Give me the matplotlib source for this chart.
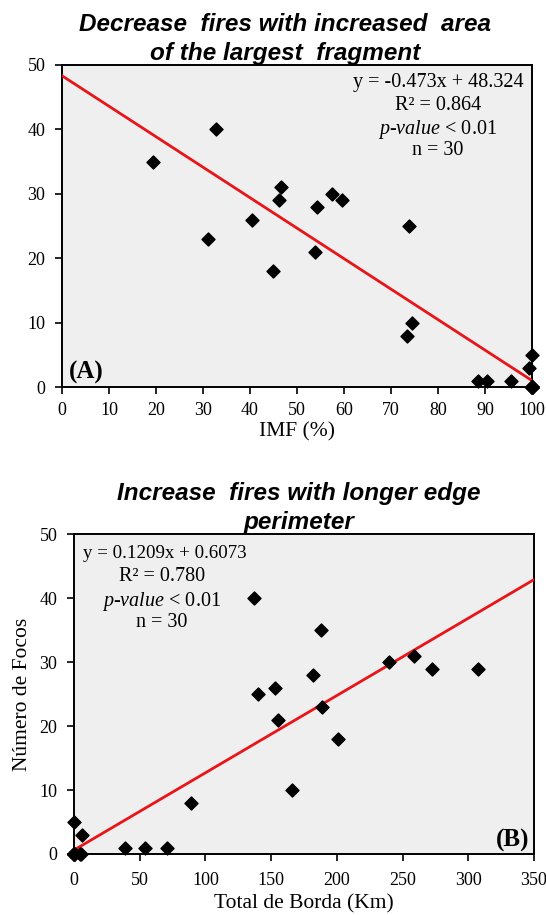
import matplotlib
matplotlib.use("Agg")
import matplotlib.pyplot as plt
import numpy as np

# ── Data ──────────────────────────────────────────────────────────────────────

# Panel A: largest fragment area (IMF, %) vs number of fires
imf_pct = [19.3, 32.7, 31.1, 40.5, 44.9, 46.2, 46.6, 53.9, 54.2, 57.4, 59.6,
           73.9, 73.4, 74.5, 88.6, 90.5, 95.5, 100, 99.4,
           100, 100, 100, 100, 100, 100, 100, 100, 100, 100, 100]
fires_a = [35, 40, 23, 26, 18, 29, 31, 21, 28, 30, 29,
           25, 8, 10, 1, 1, 1, 5, 3,
           0, 0, 0, 0, 0, 0, 0, 0, 0, 0, 0]

# Panel B: total edge length (km) vs number of fires
edge_km = [0, 6.1, 38.5, 54, 70.5, 89, 136.7, 139.7, 152.9, 155.5, 166.1,
           181.8, 187.7, 188.7, 201.1, 239.9, 258.4, 272.1, 307.4,
           0, 4.3, 5.6, 0, 0, 0, 0, 0, 0, 0, 0]
fires_b = [5, 3, 1, 1, 1, 8, 40, 25, 26, 21, 10,
           28, 35, 23, 18, 30, 31, 29, 29,
           0, 0, 0, 0, 0, 0, 0, 0, 0, 0, 0]

# Regression results shown on the chart
fit_a = (-0.473, 48.324)
fit_b = (0.1209, 0.6073)
stats_a = ["y = -0.473x + 48.324", "R\u00b2 = 0.864", "p", "n = 30"]
stats_b = ["y = 0.1209x + 0.6073", "R\u00b2 = 0.780", "p", "n = 30"]

# ── Style ─────────────────────────────────────────────────────────────────────

SERIF = "Liberation Serif"
SANS = "Liberation Sans"
BG = "#efefef"
RED = "#ea1418"

plt.rcParams.update({
    "font.family": SERIF,
    "mathtext.fontset": "custom",
    "mathtext.rm": SERIF,
    "mathtext.it": SERIF + ":italic",
    "xtick.labelsize": 13,
    "ytick.labelsize": 13,
})

fig = plt.figure(figsize=(5.46, 9.15), dpi=100)
ax_a = fig.add_axes([0.1136, 0.577, 0.8604, 0.352])
ax_b = fig.add_axes([0.1355, 0.0667, 0.8425, 0.3493])


def style_axes(ax, xpad=6):
    ax.set_facecolor(BG)
    for spine in ax.spines.values():
        spine.set_linewidth(1.4)
        spine.set_color("black")
    ax.tick_params(direction="out", length=5, width=1.2)
    ax.tick_params(axis="x", pad=xpad)
    ax.tick_params(axis="y", pad=7)


def stats_block(ax, x, y, lines):
    dy = 0.071
    for i, line in enumerate(lines):
        if line == "p":
            line = r"$\mathit{p\text{-}value}$ < 0.01"
        ax.text(x, y - i * dy, line, transform=ax.transAxes, ha="center",
                va="top", fontsize=14.5)


# ── Panel A ───────────────────────────────────────────────────────────────────
style_axes(ax_a)
ax_a.scatter(imf_pct, fires_a, marker="D", s=44, color="black", zorder=4,
             clip_on=False)
xs = np.array([0, 100])
ax_a.plot(xs, fit_a[0] * xs + fit_a[1], color=RED, lw=2, zorder=3)
ax_a.set_xlim(0, 100)
ax_a.set_ylim(0, 50)
ax_a.set_xticks(np.arange(0, 101, 10))
ax_a.set_yticks(np.arange(0, 51, 10))
ax_a.set_xlabel("IMF (%)", fontsize=15.5, labelpad=2)
ax_a.set_title("Decrease  fires with increased  area\nof the largest  fragment",
               fontsize=17.5, family=SANS, fontweight="bold", style="italic",
               linespacing=1.32, pad=0, x=0.474)
ax_a.text(0.014, 0.008, "(A)", transform=ax_a.transAxes, fontsize=18,
          fontweight="bold", ha="left", va="bottom")
ax_a.text(0.8, 0.975, stats_a[0], transform=ax_a.transAxes, ha="center",
          va="top", fontsize=14.5)
stats_block(ax_a, 0.8, 0.905, stats_a[1:])

# ── Panel B ───────────────────────────────────────────────────────────────────
style_axes(ax_b, xpad=8)
ax_b.scatter(edge_km, fires_b, marker="D", s=44, color="black", zorder=4,
             clip_on=False)
xs = np.array([0, 350])
ax_b.plot(xs, fit_b[0] * xs + fit_b[1], color=RED, lw=2, zorder=3)
ax_b.set_xlim(0, 350)
ax_b.set_ylim(0, 50)
ax_b.set_xticks(np.arange(0, 351, 50))
ax_b.set_yticks(np.arange(0, 51, 10))
ax_b.set_xlabel("Total de Borda (Km)", fontsize=15.5, labelpad=4)
ax_b.set_ylabel("Número de Focos", fontsize=15.5, labelpad=5)
ax_b.set_title("Increase  fires with longer edge\nperimeter",
               fontsize=17.5, family=SANS, fontweight="bold", style="italic",
               linespacing=1.32, pad=4, x=0.489)
ax_b.text(0.99, 0.005, "(B)", transform=ax_b.transAxes, fontsize=18,
          fontweight="bold", ha="right", va="bottom")
ax_b.text(0.02, 0.966, stats_b[0], transform=ax_b.transAxes, ha="left",
          va="top", fontsize=13.6)
stats_block(ax_b, 0.191, 0.897, stats_b[1:])

fig.savefig("out.png", dpi=100, facecolor="white")
